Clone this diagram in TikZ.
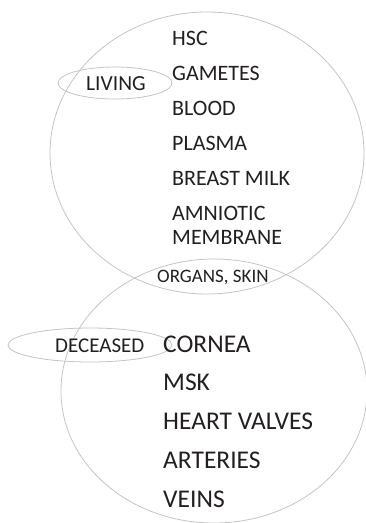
\documentclass[tikz,border=0pt]{standalone}
\usepackage{fontspec}
\setmainfont{Carlito}
\usetikzlibrary{shapes.geometric}
\definecolor{ink}{HTML}{231F20}
\definecolor{rim}{HTML}{C4C4C4}
\begin{document}
\begin{tikzpicture}[x=1pt,y=-1pt,
  ring/.style={draw=rim,line width=0.8pt,ellipse,inner sep=0pt},
  itemA/.style={anchor=base west,inner sep=0pt,text=ink,font=\fontsize{22}{22}\selectfont},
  itemB/.style={anchor=base west,inner sep=0pt,text=ink,font=\fontsize{25.5}{25.5}\selectfont},
  tag/.style={anchor=base west,inner sep=0pt,text=ink}]
\useasboundingbox (0,0) rectangle (366,523);
% big sets
\node[ring,minimum width=314pt,minimum height=282pt] (living) at (207,153) {};
\node[ring,minimum width=306pt,minimum height=264pt] (deceased) at (214,391) {};
% label ellipses
\node[ring,minimum width=114pt,minimum height=32pt] (livtag) at (115,83) {};
\node[ring,minimum width=164pt,minimum height=34pt] (dectag) at (90,345) {};
% labels
\node[tag,font=\fontsize{21.5}{21.5}\selectfont] (livtxt) at (86,90) {LIVING};
\node[tag,font=\fontsize{21}{21}\selectfont] (dectxt) at (55,352) {DECEASED};
\node[tag,font=\fontsize{19}{19}\selectfont] (orgtxt) at (157,282) {ORGANS, SKIN};
% living list
\node[itemA] (hsc) at (172,45) {HSC};
\node[itemA] (gam) at (172,80.5) {GAMETES};
\node[itemA] (blood) at (172,115.5) {BLOOD};
\node[itemA] (plasma) at (172,150.5) {PLASMA};
\node[itemA] (milk) at (172,185.5) {BREAST MILK};
\node[itemA] (amn) at (172,220.5) {AMNIOTIC};
\node[itemA] (memb) at (172,244.5) {MEMBRANE};
% deceased list
\node[itemB] (cornea) at (163,352) {CORNEA};
\node[itemB] (msk) at (163,390) {MSK};
\node[itemB] (heart) at (163,429) {HEART VALVES};
\node[itemB] (art) at (163,468) {ARTERIES};
\node[itemB] (veins) at (163,507) {VEINS};
\end{tikzpicture}
\end{document}
